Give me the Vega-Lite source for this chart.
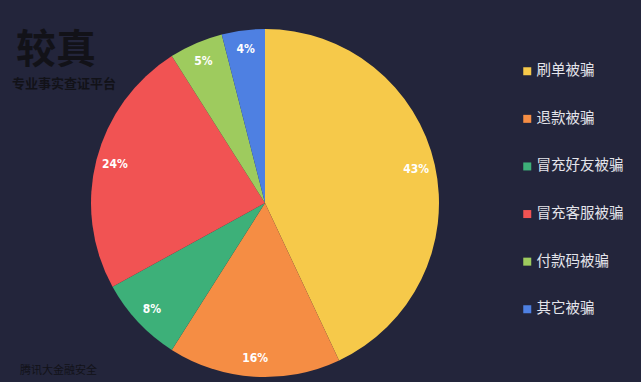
{
  "$schema": "https://vega.github.io/schema/vega-lite/v6.json",
  "width": 348,
  "height": 348,
  "autosize": {"type": "none"},
  "padding": {"left": 91, "top": 29, "right": 202, "bottom": 5},
  "background": "#23253b",
  "view": {"stroke": null},
  "config": {"font": "Noto Sans CJK SC"},
  "datasets": {
    "slices": [
      {"type": "刷单被骗", "pct": 43, "label": "43%", "order": 1},
      {"type": "退款被骗", "pct": 16, "label": "16%", "order": 2},
      {"type": "冒充好友被骗", "pct": 8, "label": "8%", "order": 3},
      {"type": "冒充客服被骗", "pct": 24, "label": "24%", "order": 4},
      {"type": "付款码被骗", "pct": 5, "label": "5%", "order": 5},
      {"type": "其它被骗", "pct": 4, "label": "4%", "order": 6}
    ],
    "logos": [
      {"txt": "较真", "kind": "big"},
      {"txt": "专业事实查证平台", "kind": "sub"},
      {"txt": "腾讯大金融安全", "kind": "bottom"}
    ]
  },
  "layer": [
    {
      "data": {"name": "slices"},
      "mark": {"type": "arc"},
      "encoding": {
        "theta": {"field": "pct", "type": "quantitative", "stack": true},
        "order": {"field": "order", "type": "quantitative"},
        "color": {
          "field": "type",
          "type": "nominal",
          "sort": ["刷单被骗", "退款被骗", "冒充好友被骗", "冒充客服被骗", "付款码被骗", "其它被骗"],
          "scale": {
            "domain": ["刷单被骗", "退款被骗", "冒充好友被骗", "冒充客服被骗", "付款码被骗", "其它被骗"],
            "range": ["#f6c94a", "#f58d44", "#3db079", "#f15353", "#9ecb5e", "#4e80e2"]
          },
          "legend": {
            "orient": "none",
            "legendX": 429,
            "legendY": 35,
            "padding": 0,
            "title": null,
            "symbolType": "square",
            "symbolSize": 64,
            "symbolStrokeWidth": 0,
            "labelFontSize": 14.5,
            "labelColor": "#e4e4ea",
            "labelFont": "Noto Sans CJK SC",
            "rowPadding": 32.6,
            "labelOffset": 2
          }
        }
      }
    },
    {
      "data": {"name": "slices"},
      "mark": {"type": "text", "radius": 155, "fontSize": 12, "fontWeight": "bold", "color": "#ffffff", "font": "DejaVu Sans Condensed"},
      "encoding": {
        "theta": {"field": "pct", "type": "quantitative", "stack": true},
        "order": {"field": "order", "type": "quantitative"},
        "text": {"field": "label", "type": "nominal"},
        "detail": {"field": "type"}
      }
    },
    {
      "data": {"name": "logos"},
      "transform": [{"filter": "datum.kind == 'big'"}],
      "mark": {"type": "text", "align": "left", "baseline": "alphabetic", "fontSize": 40, "fontWeight": "bold", "color": "#121218", "x": -75, "y": 34},
      "encoding": {"text": {"field": "txt", "type": "nominal"}}
    },
    {
      "data": {"name": "logos"},
      "transform": [{"filter": "datum.kind == 'sub'"}],
      "mark": {"type": "text", "align": "left", "baseline": "alphabetic", "fontSize": 13, "fontWeight": "bold", "color": "#121218", "x": -79, "y": 59},
      "encoding": {"text": {"field": "txt", "type": "nominal"}}
    },
    {
      "data": {"name": "logos"},
      "transform": [{"filter": "datum.kind == 'bottom'"}],
      "mark": {"type": "text", "align": "left", "baseline": "alphabetic", "fontSize": 11, "color": "#121218", "x": -71, "y": 345},
      "encoding": {"text": {"field": "txt", "type": "nominal"}}
    }
  ]
}
